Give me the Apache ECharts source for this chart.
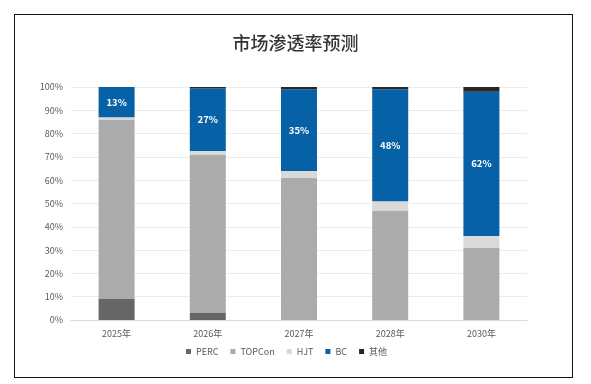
<!DOCTYPE html>
<html><head><meta charset="utf-8">
<script src="https://cdn.jsdelivr.net/npm/echarts@6/dist/echarts.min.js"></script>
<style>
html,body{margin:0;padding:0;background:#fff;}
#frame{position:absolute;left:14px;top:14px;width:557px;height:362px;border:1.5px solid #111;}
#c{position:absolute;left:0;top:0;width:591px;height:384px;}
</style></head>
<body>
<div id="frame"></div>
<div id="c"></div>
<script>
const categories = ['2025年','2026年','2027年','2028年','2030年'];
const perc   = [9, 3, 0, 0, 0];
const topcon = [77, 68, 61, 47, 31];
const hjt    = [1, 1.5, 3, 4, 5];
const bc     = [13, 27, 35, 48, 62];
const other  = [0, 0.5, 1, 1, 2];
const bcLabels = ['13%','27%','35%','48%','62%'];
const yTicks = [0,10,20,30,40,50,60,70,80,90,100];

const chart = echarts.init(document.getElementById('c'));
const font = 'Noto Sans CJK SC, Noto Sans, sans-serif';
function s(name, data, color, label){
  const o = {name, type:'bar', stack:'t', data, barWidth:36,
    itemStyle:{color}, emphasis:{disabled:true}};
  if(label){
    o.label = {show:true, position:'inside', color:'#fff', fontWeight:'bold', fontSize:9.5, fontFamily:font,
      formatter: p => bcLabels[p.dataIndex]};
  }
  return o;
}
chart.setOption({
  animation:false,
  title:{text:'市场渗透率预测', left:'center', top:29,
    textStyle:{fontSize:18, fontWeight:500, color:'#333333', fontFamily:font}},
  grid:{left:71, right:64, top:87, bottom:64},
  legend:{top:342, left:181, itemWidth:5, itemHeight:5, itemGap:12, icon:'rect',
    textStyle:{fontSize:9, color:'#595959', fontFamily:font},
    data:['PERC','TOPCon','HJT','BC','其他']},
  xAxis:{type:'category', data:categories,
    axisLine:{lineStyle:{color:'#d9d9d9'}}, axisTick:{show:false},
    axisLabel:{fontSize:9, color:'#595959', fontFamily:font, margin:9}},
  yAxis:{type:'value', min:0, max:100, interval:10,
    axisLabel:{fontSize:9, color:'#595959', fontFamily:font, margin:8, formatter: v => v + '%'},
    splitLine:{lineStyle:{color:'#ececec'}}, axisLine:{show:false}, axisTick:{show:false}},
  series:[
    s('PERC', perc, '#666666'),
    s('TOPCon', topcon, '#a9abac'),
    s('HJT', hjt, '#d9d9d9'),
    s('BC', bc, '#0661a6', true),
    s('其他', other, '#262626')
  ]
});
</script>
</body></html>
